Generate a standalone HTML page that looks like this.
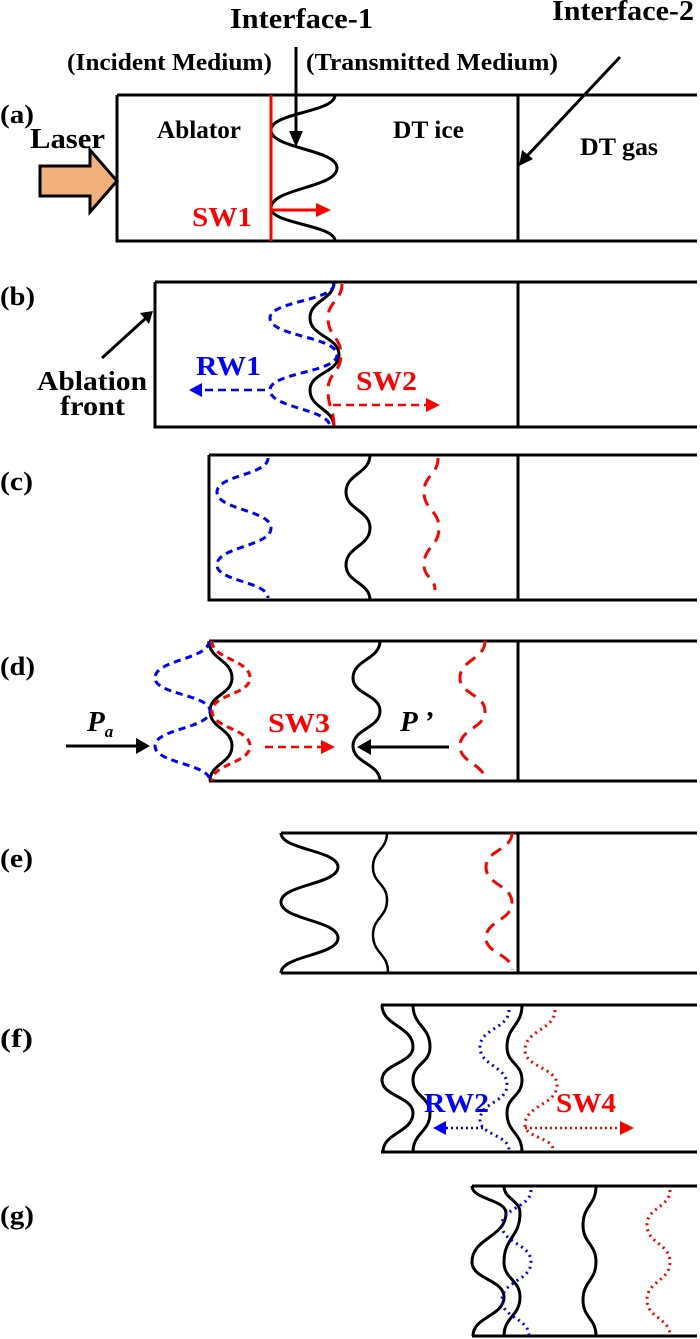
<!DOCTYPE html>
<html><head><meta charset="utf-8"><style>
html,body{margin:0;padding:0;background:#fff;}
svg{display:block}
text{font-family:"Liberation Serif",serif;font-weight:bold;}
</style></head><body>
<svg id="s" width="700" height="1339" viewBox="0 0 700 1339" xmlns="http://www.w3.org/2000/svg">
<g fill="none" stroke="#000" stroke-width="3">
<path d="M117,95 H697 M117,95 V241 H697 M518,95 V241"/>
<path d="M155,282 H697 M155,282 V427 H697 M518,282 V427"/>
<path d="M209,455 H697 M209,455 V600 H697 M518,455 V600"/>
<path d="M209,641 H697 M209,781 H697 M518,641 V781"/>
<path d="M281,833 H697 M281,973 H697 M518,833 V973"/>
<path d="M381,1005 H697 M381,1152 H697"/>
<path d="M472,1186 H697 M472,1336 H697"/>
</g>
<g id="w"></g>
<path d="M40,166 H90 V150 L117,181 L90,212 V196 H40 Z" fill="#f2b07c" stroke="#000" stroke-width="3"/>
<line x1="271" y1="95" x2="271" y2="241" stroke="#f00" stroke-width="3"/>
<line x1="271" y1="210" x2="318" y2="210" stroke="#f00" stroke-width="3"/>
<path d="M316,203 L331,210 L316,217z" fill="#f00"/>
<line x1="296" y1="47" x2="296" y2="133" stroke="#000" stroke-width="3"/>
<path d="M289,131 L296,147 L303,131z" fill="#000"/>
<line x1="620" y1="57" x2="527" y2="156" stroke="#000" stroke-width="3"/>
<path d="M522,150 L519,166 L533,159z" fill="#000"/>
<line x1="102" y1="358" x2="146" y2="318" stroke="#000" stroke-width="3"/>
<path d="M140,313 L153,311 L149,324z" fill="#000"/>
<line x1="265" y1="390" x2="200" y2="390" stroke="#00f" stroke-width="2.5" stroke-dasharray="8,5"/>
<path d="M202,383 L189,390 L202,397z" fill="#00f"/>
<line x1="333" y1="405" x2="428" y2="405" stroke="#f00" stroke-width="2.5" stroke-dasharray="8,5"/>
<path d="M426,398 L440,405 L426,412z" fill="#f00"/>
<line x1="66" y1="746" x2="138" y2="746" stroke="#000" stroke-width="3"/>
<path d="M136,738 L150,746 L136,754z" fill="#000"/>
<line x1="265" y1="747" x2="323" y2="747" stroke="#f00" stroke-width="2.5" stroke-dasharray="8,5"/>
<path d="M321,740 L335,747 L321,754z" fill="#f00"/>
<line x1="449" y1="747" x2="369" y2="747" stroke="#000" stroke-width="3"/>
<path d="M371,739 L357,747 L371,755z" fill="#000"/>
<line x1="483" y1="1128" x2="444" y2="1128" stroke="#00f" stroke-width="2.5" stroke-dasharray="2,3"/>
<path d="M446,1121 L433,1128 L446,1135z" fill="#00f"/>
<line x1="525" y1="1128" x2="622" y2="1128" stroke="#f00" stroke-width="2.5" stroke-dasharray="2,3"/>
<path d="M620,1121 L634,1128 L620,1135z" fill="#f00"/>
<g font-size="26">
<text x="0" y="123" textLength="34" lengthAdjust="spacingAndGlyphs">(a)</text>
<text x="0" y="305" textLength="35" lengthAdjust="spacingAndGlyphs">(b)</text>
<text x="0" y="490" textLength="33" lengthAdjust="spacingAndGlyphs">(c)</text>
<text x="0" y="675" textLength="35" lengthAdjust="spacingAndGlyphs">(d)</text>
<text x="0" y="867" textLength="33" lengthAdjust="spacingAndGlyphs">(e)</text>
<text x="0" y="1047" textLength="33" lengthAdjust="spacingAndGlyphs">(f)</text>
<text x="0" y="1224" textLength="34" lengthAdjust="spacingAndGlyphs">(g)</text>
</g>
<text x="230" y="28" font-size="28" textLength="143" lengthAdjust="spacingAndGlyphs">Interface-1</text>
<text x="552" y="20" font-size="28" textLength="142" lengthAdjust="spacingAndGlyphs">Interface-2</text>
<text x="67" y="70" font-size="24" textLength="205" lengthAdjust="spacingAndGlyphs">(Incident Medium)</text>
<text x="306" y="70" font-size="24" textLength="252" lengthAdjust="spacingAndGlyphs">(Transmitted Medium)</text>
<text x="30" y="148" font-size="28" textLength="75" lengthAdjust="spacingAndGlyphs">Laser</text>
<text x="157" y="138" font-size="25" textLength="84" lengthAdjust="spacingAndGlyphs">Ablator</text>
<text x="393" y="138" font-size="25" textLength="71" lengthAdjust="spacingAndGlyphs">DT ice</text>
<text x="580" y="155" font-size="25" textLength="78" lengthAdjust="spacingAndGlyphs">DT gas</text>
<text x="192" y="226" font-size="27" fill="#f00" textLength="60" lengthAdjust="spacingAndGlyphs">SW1</text>
<text x="196" y="375" font-size="27" fill="#00f" textLength="65" lengthAdjust="spacingAndGlyphs">RW1</text>
<text x="356" y="390" font-size="27" fill="#f00" textLength="61" lengthAdjust="spacingAndGlyphs">SW2</text>
<text x="37" y="390" font-size="27" textLength="110" lengthAdjust="spacingAndGlyphs">Ablation</text>
<text x="60" y="415" font-size="27" textLength="65" lengthAdjust="spacingAndGlyphs">front</text>
<text x="268" y="732" font-size="27" fill="#f00" textLength="62" lengthAdjust="spacingAndGlyphs">SW3</text>
<text x="87" y="731" font-size="29" font-style="italic">P<tspan font-size="17" dy="6">a</tspan></text>
<text x="400" y="731" font-size="29" font-style="italic">P ’</text>
<text x="424" y="1112" font-size="27" fill="#00f" textLength="65" lengthAdjust="spacingAndGlyphs">RW2</text>
<text x="556" y="1112" font-size="27" fill="#f00" textLength="60" lengthAdjust="spacingAndGlyphs">SW4</text>
</svg>
<script>
var W=document.getElementById('w');
function wave(pts,stroke,dash,sw){
 var d='M'+pts[0][0]+','+pts[0][1];
 for(var i=1;i<pts.length;i++){
  var a=pts[i-1],b=pts[i],h=(b[1]-a[1])*0.5;
  d+=' C'+a[0]+','+(a[1]+h)+' '+b[0]+','+(b[1]-h)+' '+b[0]+','+b[1];
 }
 var p=document.createElementNS('http://www.w3.org/2000/svg','path');
 p.setAttribute('d',d);p.setAttribute('fill','none');p.setAttribute('stroke',stroke);
 p.setAttribute('stroke-width',sw||3);if(dash)p.setAttribute('stroke-dasharray',dash);
 W.appendChild(p);
}
function w5(xs,ys,c,dash,sw){var p=[];for(var i=0;i<xs.length;i++)p.push([xs[i],ys[i]]);wave(p,c,dash,sw);}
var K='#000',B='#00f',R='#f00',DS='7,5',DR='12,8',DT='2,4';
w5([335,271,337,271,335],[95,130,168,208,241],K);
w5([334,310,339,310,334],[282,318,355,390,427],K);
w5([334,270,337,270,330],[284,318,355,390,427],B,DS);
w5([342,328,341,328,334],[284,318,355,390,427],R,DR);
w5([370,346,370,346,370],[455,492,528,565,600],K);
w5([268,217,271,217,268],[458,492,528,565,598],B,DS);
w5([438,424,439,424,435],[458,492,528,565,590],R,DR);
w5([209,232,210,232,210],[641,678,711,746,781],K);
w5([209,155,210,155,210],[641,678,711,746,781],B,DS);
w5([212,250,212,250,212],[641,678,711,746,781],R,DS);
w5([380,353,380,353,380],[641,678,711,746,781],K);
w5([485,460,485,460,485],[641,678,711,746,781],R,DR);
w5([281,338,281,338,281],[833,867,902,938,973],K);
w5([387,373,387,373,388],[833,867,900,935,972],K,null,2.5);
w5([512,486,512,486,512],[833,867,903,938,970],R,DR);
w5([382,413,382,413,383],[1005,1047,1080,1113,1152],K);
w5([413,430,413,430,413],[1005,1047,1080,1113,1152],K);
w5([522,507,522,507,522],[1005,1047,1080,1113,1152],K);
w5([509,480,507,480,509],[1010,1047,1085,1120,1150],B,DT);
w5([555,525,557,525,553],[1010,1050,1085,1125,1150],R,DT);
w5([472,506,472,504,473],[1186,1213,1262,1297,1336],K);
w5([504,520,504,520,504],[1186,1213,1262,1297,1336],K);
w5([596,583,596,583,596],[1186,1225,1262,1300,1336],K);
w5([531,502,531,502,529],[1190,1225,1262,1300,1336],B,DT);
w5([670,647,670,647,670],[1190,1225,1262,1300,1336],R,DT);
</script>
</body></html>
